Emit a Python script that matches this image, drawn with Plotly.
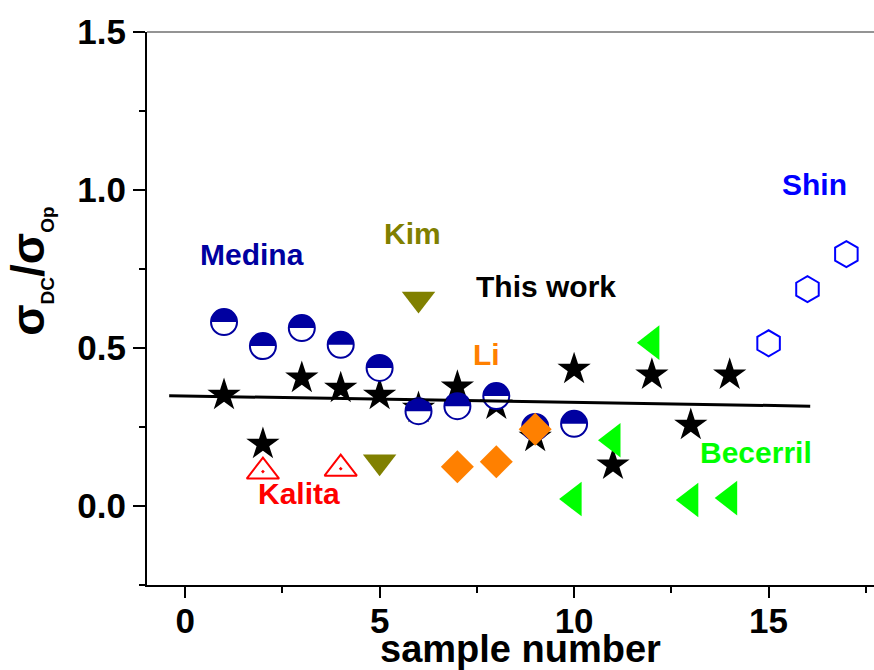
import plotly.graph_objects as go

# ---------------- data ----------------
this_x = [1, 2, 3, 4, 5, 6, 7, 8, 9, 10, 11, 12, 13, 14]
this_y = [0.351, 0.196, 0.405, 0.373, 0.351, 0.31, 0.377, 0.32, 0.218, 0.433, 0.13, 0.415, 0.256, 0.415]

medina_x = [1, 2, 3, 4, 5, 6, 7, 8, 9, 10]
medina_y = [0.582, 0.506, 0.563, 0.51, 0.437, 0.30, 0.316, 0.348, 0.25, 0.26]

kalita_x = [2, 4]
kalita_y = [0.109, 0.118]

kim_x = [5, 6]
kim_y = [0.14, 0.655]

li_x = [7, 8, 9]
li_y = [0.124, 0.14, 0.243]

becerril_x = [10, 11, 12, 13, 14]
becerril_y = [0.022, 0.208, 0.517, 0.019, 0.025]

shin_x = [15, 16, 17]
shin_y = [0.515, 0.686, 0.797]

fit_x = [-0.41, 16.07]
fit_y = [0.349, 0.316]

x_ticks = [0, 5, 10, 15]
y_ticks = [0.0, 0.5, 1.0, 1.5]

labels = ["Medina", "Kim", "This work", "Li", "Kalita", "Becerril", "Shin"]
label_x = [1.72, 5.84, 9.28, 7.76, 2.92, 14.67, 16.19]
label_y = [0.797, 0.861, 0.696, 0.479, 0.038, 0.169, 1.016]

# ---------------- styles ----------------
FONT = "Arial, 'Liberation Sans', sans-serif"
C_MEDINA = "#0000A0"
C_KIM = "#808000"
C_KALITA = "#FF0000"
C_LI = "#FF8000"
C_BEC = "#00FF00"
C_SHIN = "#0000FF"
label_colors = ["#0000A0", C_KIM, "#000000", C_LI, C_KALITA, C_BEC, C_SHIN]

fig = go.Figure()

fig.add_trace(go.Scatter(x=this_x, y=this_y, mode="markers", name="This work",
                         marker=dict(symbol="star", size=25, color="black", line=dict(width=0))))
fig.add_trace(go.Scatter(x=medina_x, y=medina_y, mode="markers", name="Medina",
                         marker=dict(symbol="circle", size=26, color="white",
                                     line=dict(color=C_MEDINA, width=2))))
fig.add_trace(go.Scatter(x=fit_x, y=fit_y, mode="lines", name="fit",
                         line=dict(color="black", width=3)))
fig.add_trace(go.Scatter(x=kalita_x, y=kalita_y, mode="markers", name="Kalita",
                         marker=dict(symbol="triangle-up-open-dot", size=28, color=C_KALITA,
                                     line=dict(color=C_KALITA, width=2))))
fig.add_trace(go.Scatter(x=kim_x, y=kim_y, mode="markers", name="Kim",
                         marker=dict(symbol="triangle-down", size=29, color=C_KIM, line=dict(width=0))))
fig.add_trace(go.Scatter(x=becerril_x, y=becerril_y, mode="markers", name="Becerril",
                         marker=dict(symbol="triangle-left", size=30, color=C_BEC, line=dict(width=0))))
fig.add_trace(go.Scatter(x=shin_x, y=shin_y, mode="markers", name="Shin",
                         marker=dict(symbol="hexagon-open", size=26, color=C_SHIN,
                                     line=dict(color=C_SHIN, width=2))))

# half-filled tops of the Medina circles (pixel-sized, anchored at data points)
R = 13.0
k = 0.5523 * R
half_top = (f"M {-R},0 C {-R},{k} {-k},{R} 0,{R} "
            f"C {k},{R} {R},{k} {R},0 Z")
shapes = []
for xv, yv in zip(medina_x, medina_y):
    shapes.append(dict(type="path", xref="x", yref="y", xsizemode="pixel", ysizemode="pixel",
                       xanchor=xv, yanchor=yv, path=half_top, fillcolor=C_MEDINA,
                       line=dict(width=0), layer="above"))
# Li diamonds drawn on top
D = 16.5
diamond = f"M 0,{D} L {D},0 L 0,{-D} L {-D},0 Z"
for xv, yv in zip(li_x, li_y):
    shapes.append(dict(type="path", xref="x", yref="y", xsizemode="pixel", ysizemode="pixel",
                       xanchor=xv, yanchor=yv, path=diamond, fillcolor=C_LI,
                       line=dict(width=0), layer="above"))
# thin top frame line
shapes.append(dict(type="line", xref="paper", yref="paper", x0=0, x1=1, y0=1, y1=1,
                   line=dict(color="#707070", width=1.5), layer="above"))

annotations = []
for t, xv, yv, c in zip(labels, label_x, label_y, label_colors):
    annotations.append(dict(x=xv, y=yv, xref="x", yref="y", text=t, showarrow=False,
                            xanchor="center", yanchor="middle",
                            font=dict(family=FONT, size=30, color=c, weight=700)))
# y-axis title
annotations.append(dict(
    x=-0.161, y=0.568, xref="paper", yref="paper", showarrow=False, textangle=-90,
    xanchor="center", yanchor="middle",
    text="σ<sub><span style='font-size:19px'>DC</span></sub>/σ<sub><span style='font-size:19px'>Op</span></sub>",
    font=dict(family=FONT, size=46, color="black", weight=700)))
# x-axis title
annotations.append(dict(
    x=0.514, y=-0.1165, xref="paper", yref="paper", showarrow=False,
    xanchor="center", yanchor="middle", text="sample number",
    font=dict(family=FONT, size=38, color="black", weight=700)))

fig.update_layout(
    width=874, height=670,
    margin=dict(l=147, r=0, t=32, b=85),
    paper_bgcolor="white", plot_bgcolor="white",
    showlegend=False,
    shapes=shapes, annotations=annotations,
    xaxis=dict(range=[-0.98, 17.71], tickmode="array", tickvals=x_ticks,
               ticks="outside", ticklen=11, tickwidth=2, tickcolor="black",
               showline=True, linewidth=2, linecolor="black",
               showgrid=False, zeroline=False, automargin=False,
               minor=dict(dtick=2.5, tick0=0, ticks="outside", ticklen=6, tickwidth=2,
                          tickcolor="black", showgrid=False),
               tickfont=dict(family=FONT, size=35, color="black", weight=700),
               ticklabelstandoff=-7),
    yaxis=dict(range=[-0.25, 1.5], tickmode="array", tickvals=y_ticks,
               ticktext=[f"{v:.1f}" for v in y_ticks],
               ticks="outside", ticklen=12, tickwidth=2, tickcolor="black",
               showline=True, linewidth=2, linecolor="black",
               showgrid=False, zeroline=False, automargin=False,
               minor=dict(dtick=0.25, tick0=0, ticks="outside", ticklen=6, tickwidth=2,
                          tickcolor="black", showgrid=False),
               tickfont=dict(family=FONT, size=35, color="black", weight=700),
               ticklabelstandoff=0),
)

fig.write_html("out.html")
